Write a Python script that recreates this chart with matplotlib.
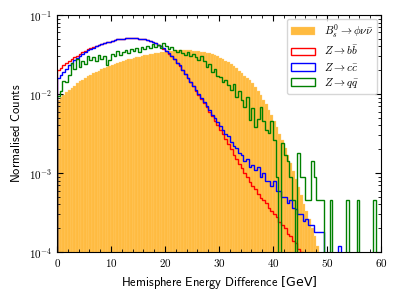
import numpy as np
import matplotlib
matplotlib.use("Agg")
import matplotlib.pyplot as plt
from matplotlib.ticker import MultipleLocator

plt.rcParams['mathtext.fontset'] = 'cm'
plt.rcParams['font.family'] = 'cmr10'
plt.rcParams['axes.formatter.use_mathtext'] = True
plt.rcParams['axes.unicode_minus'] = False

bin_width = 0.5
edges = np.arange(0, 60 + bin_width, bin_width)

# B_s -> phi nu nubar (filled), 0.5 GeV bins starting at 0
sig = [0.0084, 0.0091, 0.0098, 0.0105, 0.0113, 0.0120, 0.0128, 0.0136, 0.0144, 0.0151,
       0.0159, 0.0167, 0.0175, 0.0182, 0.0190, 0.0198, 0.0205, 0.0212, 0.0219, 0.0226,
       0.0233, 0.0240, 0.0247, 0.0253, 0.0260, 0.0267, 0.0274, 0.0281, 0.0287, 0.0292,
       0.0298, 0.0304, 0.0310, 0.0315, 0.0320, 0.0325, 0.0330, 0.0334, 0.0338, 0.0342,
       0.0345, 0.0348, 0.0351, 0.0353, 0.0355, 0.0356, 0.0357, 0.0357, 0.0357, 0.0356,
       0.0354, 0.0351, 0.0348, 0.0344, 0.0339, 0.0333, 0.0326, 0.0318, 0.0309, 0.0299,
       0.0288, 0.0277, 0.0265, 0.0252, 0.0239, 0.0225, 0.0211, 0.0197, 0.0183, 0.0169,
       0.0160, 0.0150, 0.0138, 0.0124, 0.0110, 0.0097, 0.0085, 0.0074, 0.0063, 0.0054,
       0.0045, 0.0038, 0.0031, 0.0026, 0.0021, 0.0017, 0.00135, 0.00107, 0.00085, 0.00066,
       0.00052, 0.00041, 0.00033, 0.00026, 0.00020, 0.00016, 0.00012, 0.00009]

# Z -> b bbar
zbb = [0.0200, 0.0215, 0.0230, 0.0245, 0.0262, 0.0275, 0.0290, 0.0306, 0.0320, 0.0335,
       0.0350, 0.0366, 0.0380, 0.0394, 0.0410, 0.0420, 0.0432, 0.0440, 0.0450, 0.0461,
       0.0470, 0.0480, 0.0490, 0.0494, 0.0500, 0.0506, 0.0510, 0.0512, 0.0510, 0.0506,
       0.0500, 0.0496, 0.0490, 0.0480, 0.0470, 0.0455, 0.0440, 0.0420, 0.0400, 0.0375,
       0.0350, 0.0325, 0.0300, 0.0275, 0.0250, 0.0225, 0.0200, 0.0180, 0.0160, 0.0140,
       0.0125, 0.0110, 0.0098, 0.0087, 0.0077, 0.0068, 0.0060, 0.0053, 0.0046, 0.0040,
       0.0035, 0.0031, 0.0027, 0.0023, 0.0020, 0.0017, 0.0015, 0.0013, 0.00115, 0.00100,
       0.00088, 0.00078, 0.00068, 0.00063, 0.00055, 0.00049, 0.00045, 0.00042, 0.00036, 0.00033,
       0.00030, 0.00028, 0.00024, 0.00022, 0.00020, 0.00017, 0.00016, 0.00014, 0.00013, 0.00011,
       0.00010]

# Z -> c cbar
zcc = [0.0160, 0.0175, 0.0190, 0.0210, 0.0230, 0.0250, 0.0270, 0.0285, 0.0300, 0.0320,
       0.0340, 0.0355, 0.0370, 0.0385, 0.0400, 0.0415, 0.0430, 0.0440, 0.0450, 0.0460,
       0.0470, 0.0480, 0.0490, 0.0495, 0.0500, 0.0505, 0.0510, 0.0510, 0.0505, 0.0505,
       0.0500, 0.0490, 0.0490, 0.0480, 0.0470, 0.0450, 0.0440, 0.0420, 0.0400, 0.0380,
       0.0350, 0.0330, 0.0300, 0.0280, 0.0250, 0.0230, 0.0200, 0.0180, 0.0160, 0.0142,
       0.0125, 0.0111, 0.0099, 0.0088, 0.0079, 0.0070, 0.0062, 0.0055, 0.0049, 0.0044,
       0.0039, 0.0035, 0.0031, 0.0029, 0.0025, 0.0022, 0.0021, 0.0018, 0.0017, 0.0014,
       0.0015, 0.0012, 0.00125, 0.00110, 0.0012, 0.0009, 0.0010, 0.00080, 0.0008, 0.00068,
       0.0008, 0.00060, 0.00060, 0.00050, 0.0005, 0.00042, 0.00046, 0.00036, 0.00035, 0.00030,
       0.00030, 0.00025, 0.00026, 0.00022, 0.00022, 0.00018, 0.00018, 0.00018, 0.00018, 0.0,
       0.0, 0.0, 0.0, 0.0, 0.00012]

# Z -> q qbar
zqq = [0.0095, 0.0110, 0.0145, 0.0140, 0.0175, 0.0250, 0.0210, 0.0280, 0.0220, 0.0260,
       0.0240, 0.0300, 0.0270, 0.0290, 0.0260, 0.0310, 0.0280, 0.0300, 0.0230, 0.0270,
       0.0320, 0.0300, 0.0350, 0.0310, 0.0340, 0.0360, 0.0330, 0.0370, 0.0350, 0.0380,
       0.0340, 0.0390, 0.0370, 0.0410, 0.0380, 0.0430, 0.0390, 0.0420, 0.0380, 0.0440,
       0.0400, 0.0370, 0.0390, 0.0360, 0.0340, 0.0360, 0.0330, 0.0310, 0.0340, 0.0300,
       0.0320, 0.0290, 0.0270, 0.0300, 0.0260, 0.0220, 0.0240, 0.0190, 0.0210, 0.0170,
       0.0165, 0.0140, 0.0150, 0.0130, 0.0112, 0.0135, 0.0092, 0.0110, 0.0084, 0.0069,
       0.0092, 0.0047, 0.0066, 0.0038, 0.0048, 0.0069, 0.0045, 0.0035, 0.0032, 0.0045,
       0.0026, 0.0009, 0.0, 0.0024, 0.0017, 0.0014, 0.0009, 0.00046, 0.0, 0.0018,
       0.0009, 0.0009, 0.00046, 0.00046, 0.0014, 0.0009, 0.00046, 0.00046, 0.00046, 0.0,
       0.0, 0.00046, 0.0, 0.0, 0.0, 0.0, 0.0, 0.00046, 0.0, 0.0,
       0.0, 0.00046, 0.0, 0.0, 0.0, 0.0, 0.0, 0.00046]


def pad(vals):
    out = np.zeros(len(edges) - 1)
    out[:len(vals)] = vals
    return out


centers = 0.5 * (edges[:-1] + edges[1:])

fig = plt.figure(figsize=(3.99, 2.99), dpi=100)
ax = fig.add_axes([0.143, 0.157, 0.812, 0.793])

ax.hist(centers, bins=edges, weights=pad(sig), color='orange', alpha=0.75,
        edgecolor='#ffd27a', linewidth=0.3, label=r'$B_s^0 \to \phi\nu\bar{\nu}$')
ax.hist(centers, bins=edges, weights=pad(zbb), histtype='step', color='red',
        linewidth=1.0, label=r'$Z \to b\bar{b}$')
ax.hist(centers, bins=edges, weights=pad(zcc), histtype='step', color='blue',
        linewidth=1.0, label=r'$Z \to c\bar{c}$')
ax.hist(centers, bins=edges, weights=pad(zqq), histtype='step', color='green',
        linewidth=1.0, label=r'$Z \to q\bar{q}$')

ax.set_yscale('log')
ax.set_xlim(0, 60)
ax.set_ylim(1e-4, 1e-1)
ax.xaxis.set_major_locator(MultipleLocator(10))
ax.xaxis.set_minor_locator(MultipleLocator(2))
ax.tick_params(which='both', direction='in', top=True, right=True, labelsize=8)
ax.tick_params(which='major', length=4.5)
ax.tick_params(which='minor', length=2.2)

ax.set_xlabel(r'$\mathsf{Hemisphere\ Energy\ Difference}$ [GeV]', fontsize=9,
              family=['DejaVu Sans'])
ax.set_ylabel(r'$\mathsf{Normalised\ Counts}$', fontsize=9)

ax.legend(loc='upper right', fontsize=8, handlelength=2.2, handleheight=0.7,
          borderaxespad=0.35, labelspacing=0.3, borderpad=0.35)

fig.savefig('out.png', dpi=100)
